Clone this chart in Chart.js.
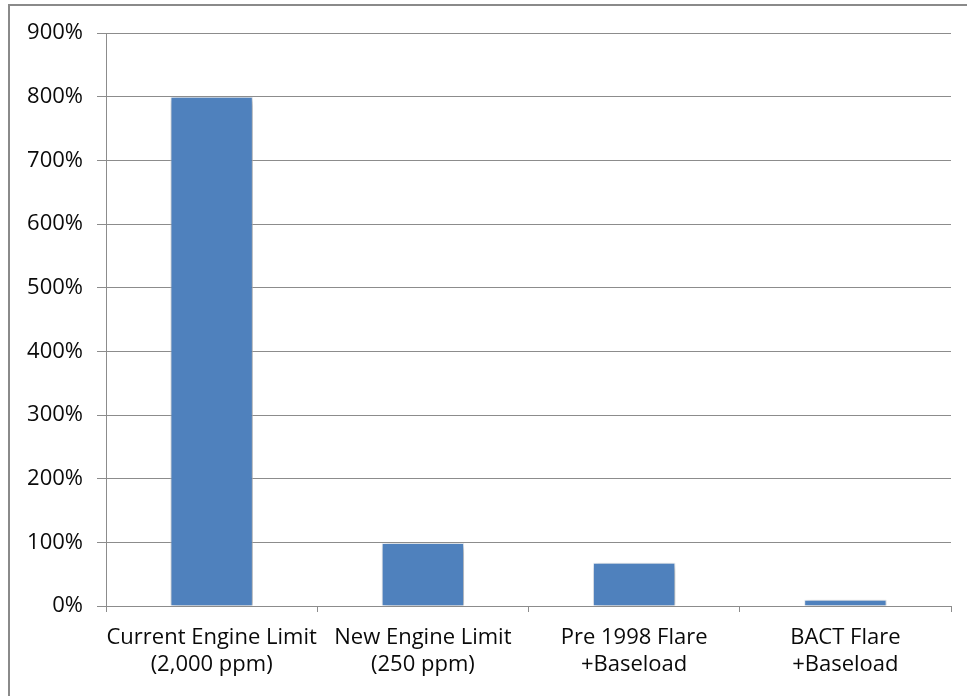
<!DOCTYPE html>
<html>
<head>
<meta charset="utf-8">
<script src="https://cdn.jsdelivr.net/npm/chart.js@4/dist/chart.umd.min.js"></script>
<style>
  html, body { margin: 0; padding: 0; background: #fff; }
  #wrap { position: relative; width: 967px; height: 696px; overflow: hidden; }
  #frame { position: absolute; left: 8px; top: 4px; width: 1000px; height: 800px;
           border-left: 2px solid #8a8a8a; border-top: 2px solid #8a8a8a; }
  #c { position: absolute; left: 0; top: 0; }
</style>
</head>
<body>
<div id="wrap">
  <div id="frame"></div>
  <canvas id="c" width="967" height="696"></canvas>
</div>
<script>
// Emission comparison, expressed as a percentage
const categories = [
  ['Current Engine Limit', '(2,000 ppm)'],
  ['New Engine Limit', '(250 ppm)'],
  ['Pre 1998 Flare', '+Baseload'],
  ['BACT Flare', '+Baseload']
];
const percentValues = [800, 99, 68, 10];
const yTicks = [0, 100, 200, 300, 400, 500, 600, 700, 800, 900];

const FAMILY = '"Open Sans", Lato, sans-serif';
const GRID = '#8c8c8c';

// Soft drop shadow behind the bars
const barShadow = {
  id: 'barShadow',
  beforeDatasetsDraw(chart) {
    const ctx = chart.ctx;
    ctx.save();
    ctx.shadowColor = 'rgba(0,0,0,0.4)';
    ctx.shadowBlur = 7;
    ctx.shadowOffsetX = 2;
    ctx.shadowOffsetY = 2;
  },
  afterDatasetsDraw(chart) {
    chart.ctx.restore();
  }
};

new Chart(document.getElementById('c'), {
  type: 'bar',
  data: {
    labels: categories,
    datasets: [{
      data: percentValues,
      backgroundColor: '#4f81bd',
      borderColor: 'rgba(235,242,250,0.9)',
      borderWidth: 1,
      categoryPercentage: 1,
      barPercentage: 0.39
    }]
  },
  options: {
    responsive: false,
    animation: false,
    layout: { padding: { top: 33, right: 16, left: 0, bottom: 0 } },
    plugins: { legend: { display: false }, tooltip: { enabled: false } },
    scales: {
      x: {
        grid: { drawOnChartArea: false, drawTicks: true, tickLength: 6, color: GRID, offset: true },
        border: { color: GRID, width: 1 },
        ticks: { color: '#0a0a0a', font: { family: FAMILY, size: 22, lineHeight: 1.22 }, padding: 12, maxRotation: 0, autoSkip: false },
        afterFit(s) { s.height = 696 - 606; }
      },
      y: {
        min: 0,
        max: 900,
        afterBuildTicks(s) { s.ticks = yTicks.map(v => ({ value: v })); },
        grid: { color: GRID, tickLength: 9, lineWidth: 1 },
        border: { color: GRID, width: 1 },
        ticks: { color: '#0a0a0a', font: { family: FAMILY, size: 22 }, padding: 14, callback: v => v + '%' },
        afterFit(s) { s.width = 106; }
      }
    }
  },
  plugins: [barShadow]
});
</script>
</body>
</html>
